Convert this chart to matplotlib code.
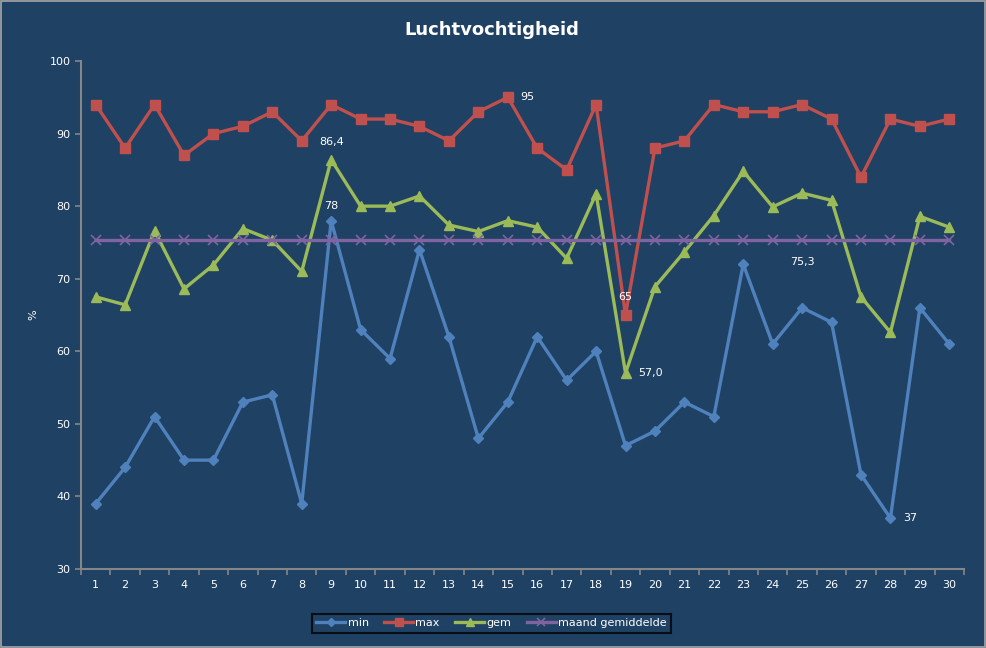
import numpy as np
import matplotlib.pyplot as plt
from matplotlib.patches import Rectangle

days = list(range(1, 31))
min_vals = [39, 44, 51, 45, 45, 53, 54, 39, 78, 63, 59, 74, 62, 48, 53,
            62, 56, 60, 47, 49, 53, 51, 72, 61, 66, 64, 43, 37, 66, 61]
max_vals = [94, 88, 94, 87, 90, 91, 93, 89, 94, 92, 92, 91, 89, 93, 95,
            88, 85, 94, 65, 88, 89, 94, 93, 93, 94, 92, 84, 92, 91, 92]
gem_vals = [67.5, 66.4, 76.6, 68.6, 71.9, 76.9, 75.3, 71.0, 86.4, 80.0,
            80.0, 81.4, 77.4, 76.5, 78.0, 77.1, 72.8, 81.7, 57.0, 68.9,
            73.7, 78.7, 84.8, 79.9, 81.8, 80.8, 67.5, 62.6, 78.6, 77.1]
maand_gem = [75.3] * 30

bg = '#1F4163'
white = 'white'

fig = plt.figure(figsize=(9.87, 6.48), dpi=100, facecolor=bg)
ax = fig.add_axes([81/987, 79/648, 883/987, 508/648])
ax.set_facecolor(bg)

ax.plot(days, min_vals, color='#4F81BD', lw=2.4, marker='D', ms=5.5, label='min')
ax.plot(days, max_vals, color='#C0504D', lw=2.4, marker='s', ms=7, label='max')
ax.plot(days, gem_vals, color='#9BBB59', lw=2.4, marker='^', ms=7.5, label='gem')
ax.plot(days, maand_gem, color='#8064A2', lw=2.4, marker='x', ms=6.5, mew=1.2,
        label='maand gemiddelde')

ax.set_xlim(0.5, 30.5)
ax.set_ylim(30, 100)
ax.set_yticks(range(30, 101, 10))
ax.set_xticks(days)
ax.set_xticks(np.arange(0.5, 31, 1), minor=True)
ax.tick_params(axis='x', which='major', length=0, colors=white, labelsize=8, pad=8)
ax.tick_params(axis='x', which='minor', length=4, color='#868686', width=1.2)
ax.tick_params(axis='y', length=4, color='#868686', width=1.2, colors=white,
               labelsize=8)
for lab in ax.get_yticklabels():
    lab.set_color(white)
for s in ['top', 'right']:
    ax.spines[s].set_visible(False)
for s in ['left', 'bottom']:
    ax.spines[s].set_color('#868686')
    ax.spines[s].set_linewidth(1.5)

ax.set_ylabel('%', color=white, fontsize=8, labelpad=8)

# data labels
lbl = dict(color=white, fontsize=8)
ax.annotate('86,4', (9, gem_vals[8]), xytext=(0, 9), textcoords='offset points',
            ha='center', va='bottom', **lbl)
ax.annotate('78', (9, min_vals[8]), xytext=(0, 7), textcoords='offset points',
            ha='center', va='bottom', **lbl)
ax.annotate('95', (15, max_vals[14]), xytext=(9, 0), textcoords='offset points',
            ha='left', va='center', **lbl)
ax.annotate('65', (19, max_vals[18]), xytext=(0, 9), textcoords='offset points',
            ha='center', va='bottom', **lbl)
ax.annotate('57,0', (19, gem_vals[18]), xytext=(9, 0), textcoords='offset points',
            ha='left', va='center', **lbl)
ax.annotate('75,3', (25, maand_gem[24]), xytext=(0, -12), textcoords='offset points',
            ha='center', va='top', **lbl)
ax.annotate('37', (28, min_vals[27]), xytext=(9, 0), textcoords='offset points',
            ha='left', va='center', **lbl)

fig.text(0.498, 0.953, 'Luchtvochtigheid', color=white, fontsize=13,
         fontweight='bold', ha='center', va='center')

leg = fig.legend(loc='center', bbox_to_anchor=(0.498, 0.038), ncol=4,
                 frameon=True, fancybox=False, facecolor=bg, edgecolor='black',
                 fontsize=8, handlelength=2.6, columnspacing=1.4,
                 handletextpad=0.2, borderpad=0.4, markerscale=0.8)
leg.get_frame().set_linewidth(1.5)
for t in leg.get_texts():
    t.set_color(white)

fig.patches.append(Rectangle((0.001, 0.002), 0.997, 0.996, transform=fig.transFigure,
                             fill=False, edgecolor='#A6A6A6', lw=1.2))

fig.savefig('out.png', dpi=100, facecolor=bg)
